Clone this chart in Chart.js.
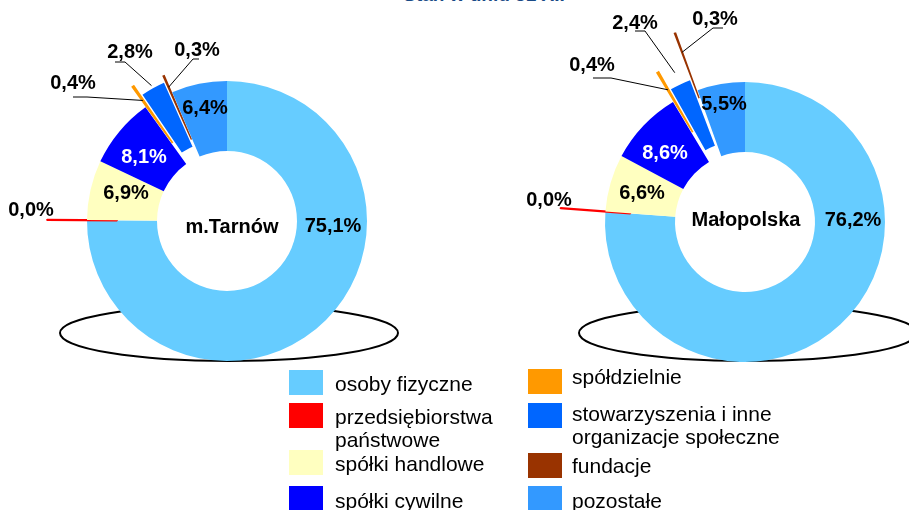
<!DOCTYPE html>
<html>
<head>
<meta charset="utf-8">
<script src="https://cdn.jsdelivr.net/npm/chart.js@4.4.0/dist/chart.umd.min.js"></script>
<style>
  html, body { margin: 0; padding: 0; background: #fff; }
  #wrap { position: relative; width: 909px; height: 510px; overflow: hidden; background: #fff;
          font-family: 'Liberation Sans', Arial, sans-serif; }
  canvas { position: absolute; }
  #title { position: absolute; left: 0; width: 968px; text-align: center; top: -17px;
           font: bold 19px 'Liberation Sans', Arial, sans-serif; color: #1A4A86; line-height: 23px; }
  .lg-box { position: absolute; width: 34px; height: 25px; }
  .lg-txt { position: absolute; font-size: 21px; line-height: 23px; color: #000; }
</style>
</head>
<body>
<div id="wrap">
  <div id="title">Stan w dniu 31 XII</div>
  <canvas id="c1" width="454" height="442" style="left:0px;top:0px"></canvas>
  <canvas id="c2" width="454" height="442" style="left:518px;top:1px"></canvas>
  <div id="legend"></div>
</div>
<script>
// ---- data ----
const categories = ['osoby fizyczne', 'przedsiębiorstwa państwowe', 'spółki handlowe', 'spółki cywilne',
                    'spółdzielnie', 'stowarzyszenia i inne organizacje społeczne', 'fundacje', 'pozostałe'];
const chartNames = ['m.Tarnów', 'Małopolska'];
const tarnowValues = [75.1, 0.03, 6.9, 8.1, 0.4, 2.8, 0.3, 6.4];
const malopolskaValues = [76.2, 0.03, 6.6, 8.6, 0.4, 2.4, 0.3, 5.5];

// ---- styles / layout ----
const colors = ['#66CCFF', '#FF0000', '#FFFFC0', '#0000FF', '#FF9900', '#0066FF', '#993300', '#3399FF'];
const labelColors = ['#000', '#000', '#000', '#fff', '#000', '#000', '#000', '#000'];
const borderWidths = [0, 2, 0, 0, 0, 0, 0, 0];

const layouts = [
  {
    explode: [0, 40, 0, 0, 25, 12, 19, 0],
    labels: [[106, 5], [-196, -11], [-101, -28], [-83, -64], [-154, -138], [-97, -169], [-30, -171], [-22, -113]],
    center: [5, 6],
    leaders: { 4: [[-154, -124], [-140, -124], 147], 5: [[-112, -159], [-102, -159], 155], 6: [[-28, -162], [-34, -162], 146] },
    ellipse: [2, 112, 169, 28]
  },
  {
    explode: [0, 45, 0, 0, 34, 12, 62, 0],
    labels: [[108, -2], [-196, -22], [-103, -29], [-80, -69], [-153, -157], [-110, -199], [-30, -203], [-21, -118]],
    center: [1, -2],
    leaders: { 4: [[-152, -144], [-134, -144], 153], 5: [[-110, -191], [-100, -191], 165], 6: [[-22, -194], [-32, -194], 181] },
    ellipse: [3, 111, 169, 28]
  }
];

function fmt(v) { return v.toFixed(1).replace('.', ',') + '%'; }

function makePlugin(idx) {
  const L = layouts[idx];
  return {
    id: 'decor' + idx,
    beforeDatasetsDraw(chart) {
      const meta = chart.getDatasetMeta(0);
      // radial explosion of selected slices (library arc drawing, shifted outward)
      meta.data.forEach((arc, i) => {
        const s = L.explode[i];
        if (!s || arc._exploded) return;
        const orig = arc.draw;
        arc.draw = function (ctx) {
          const mid = (this.startAngle + this.endAngle) / 2;
          ctx.save();
          ctx.translate(Math.cos(mid) * s, Math.sin(mid) * s);
          orig.call(this, ctx);
          ctx.restore();
        };
        arc._exploded = true;
      });
      const { x, y } = meta.data[0].getProps(['x', 'y'], true);
      const ctx = chart.ctx;
      ctx.save();
      ctx.beginPath();
      ctx.ellipse(x + L.ellipse[0], y + L.ellipse[1], L.ellipse[2], L.ellipse[3], 0, 0, Math.PI * 2);
      ctx.lineWidth = 2;
      ctx.strokeStyle = '#000';
      ctx.stroke();
      ctx.restore();
    },
    afterDatasetsDraw(chart) {
      const ctx = chart.ctx;
      const meta = chart.getDatasetMeta(0);
      const values = chart.data.datasets[0].data;
      const first = meta.data[0].getProps(['x', 'y'], true);
      const cx = first.x, cy = first.y;
      ctx.save();
      ctx.strokeStyle = '#000';
      ctx.lineWidth = 1;
      Object.keys(L.leaders).forEach(k => {
        const i = +k;
        const p = meta.data[i].getProps(['startAngle', 'endAngle'], true);
        const mid = (p.startAngle + p.endAngle) / 2;
        const [a, b, r] = L.leaders[k];
        ctx.beginPath();
        ctx.moveTo(cx + a[0], cy + a[1]);
        ctx.lineTo(cx + b[0], cy + b[1]);
        ctx.lineTo(cx + Math.cos(mid) * r, cy + Math.sin(mid) * r);
        ctx.stroke();
      });
      ctx.font = "bold 20px 'Liberation Sans', Arial, sans-serif";
      ctx.textAlign = 'center';
      ctx.textBaseline = 'middle';
      values.forEach((v, i) => {
        ctx.fillStyle = labelColors[i];
        ctx.fillText(fmt(v), cx + L.labels[i][0], cy + L.labels[i][1]);
      });
      ctx.fillStyle = '#000';
      ctx.fillText(chartNames[idx], cx + L.center[0], cy + L.center[1]);
      ctx.restore();
    }
  };
}

function makeChart(canvasId, values, idx) {
  return new Chart(document.getElementById(canvasId), {
    type: 'doughnut',
    data: {
      labels: categories,
      datasets: [{
        data: values,
        backgroundColor: colors,
        borderColor: colors,
        borderWidth: borderWidths,
        clip: false
      }]
    },
    options: {
      responsive: false,
      animation: false,
      radius: 140,
      cutout: '50%',
      layout: { padding: 0 },
      plugins: { legend: { display: false }, tooltip: { enabled: false } }
    },
    plugins: [makePlugin(idx)]
  });
}

makeChart('c1', tarnowValues, 0);
makeChart('c2', malopolskaValues, 1);

// ---- HTML legend ----
const legendBoxes = [[289, 370], [289, 403], [289, 450], [289, 486], [528, 369], [528, 403], [528, 453], [528, 486]];
const legendText = [[335, 372, 190], [335, 405, 185], [335, 452, 190], [335, 489, 190],
                    [572, 365, 240], [572, 402, 240], [572, 454, 240], [572, 489, 240]];
const legend = document.getElementById('legend');
categories.forEach((c, i) => {
  const b = document.createElement('div');
  b.className = 'lg-box';
  b.style.left = legendBoxes[i][0] + 'px';
  b.style.top = legendBoxes[i][1] + 'px';
  b.style.background = colors[i];
  legend.appendChild(b);
  const t = document.createElement('div');
  t.className = 'lg-txt';
  t.style.left = legendText[i][0] + 'px';
  t.style.top = legendText[i][1] + 'px';
  t.style.width = legendText[i][2] + 'px';
  t.textContent = c;
  legend.appendChild(t);
});
</script>
</body>
</html>
